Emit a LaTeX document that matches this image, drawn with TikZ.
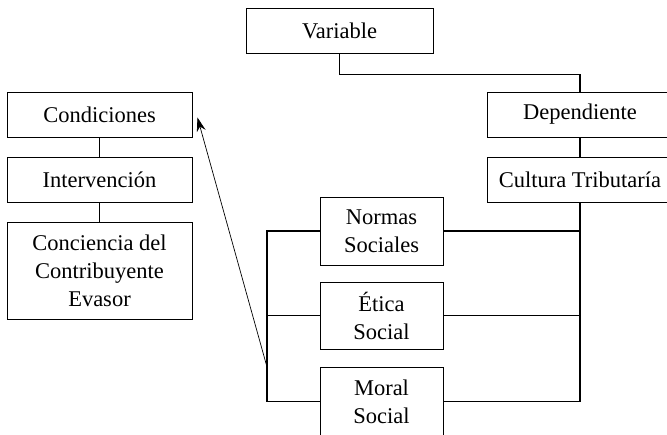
\documentclass[tikz,border=0pt]{standalone}
\usepackage{fontspec}
\setmainfont{Liberation Serif}
\usetikzlibrary{arrows.meta}
\usetikzlibrary{calc}

\begin{document}
\begin{tikzpicture}[x=1pt,y=-1pt,
    box/.style={draw,line width=0.9pt,align=center,inner sep=0pt,
      font=\fontsize{22.5}{28}\selectfont},
    link/.style={line width=1.5pt},
    >={Stealth[length=14pt,width=9pt]}]
    \useasboundingbox (0,0) rectangle (667,434);
    \clip (0,0) rectangle (667,434);
    %
    \node[box,minimum width=187pt,minimum height=45pt] (var) at (339.5,30.5) {Variable};
    \node[box,minimum width=186pt,minimum height=45pt] (dep) at (580,114.5) {Dependiente};
    \node[box,minimum width=186pt,minimum height=45pt] (cult) at (580,179.5) {Cultura Tributaría};
    \node[box,minimum width=185pt,minimum height=45pt] (cond) at (99.5,114.5) {Condiciones};
    \node[box,minimum width=185pt,minimum height=45pt] (interv) at (99.5,179.5) {Intervención};
    \node[box,minimum width=185pt,minimum height=97pt] (conc) at (99.5,270.5) {Conciencia del\\Contribuyente\\Evasor};
    \node[box,minimum width=123pt,minimum height=68pt] (normas) at (381.5,231) {Normas\\Sociales};
    \node[box,minimum width=123pt,minimum height=67pt] (etica) at (381.5,315.5) {Ética\\Social};
    \node[box,minimum width=123pt,minimum height=68pt] (moral) at (381.5,401.5) {Moral\\Social};
    %
    \draw[link] (var.south) -- ++(0,21) -| (dep.north);
    \draw[link] (dep.south) -- (cult.north);
    \draw[link] (cond.south) -- (interv.north);
    \draw[link] (interv.south) -- (conc.north);
    %
    \draw[link] (cult.south) |- (moral.east);
    \draw[link] (normas.east) -- (normas.east -| cult.south);
    \draw[link] (etica.east) -- (etica.east -| cult.south);
    %
    \coordinate (trunk) at (267,367);
    \draw[link] (normas.west) -| (trunk) |- (moral.west);
    \draw[link] (etica.west) -- (etica.west -| trunk);
    \draw[->,line width=0.7pt] (trunk) -- ([shift={(5,3)}]cond.east);
  \end{tikzpicture}
\end{document}
